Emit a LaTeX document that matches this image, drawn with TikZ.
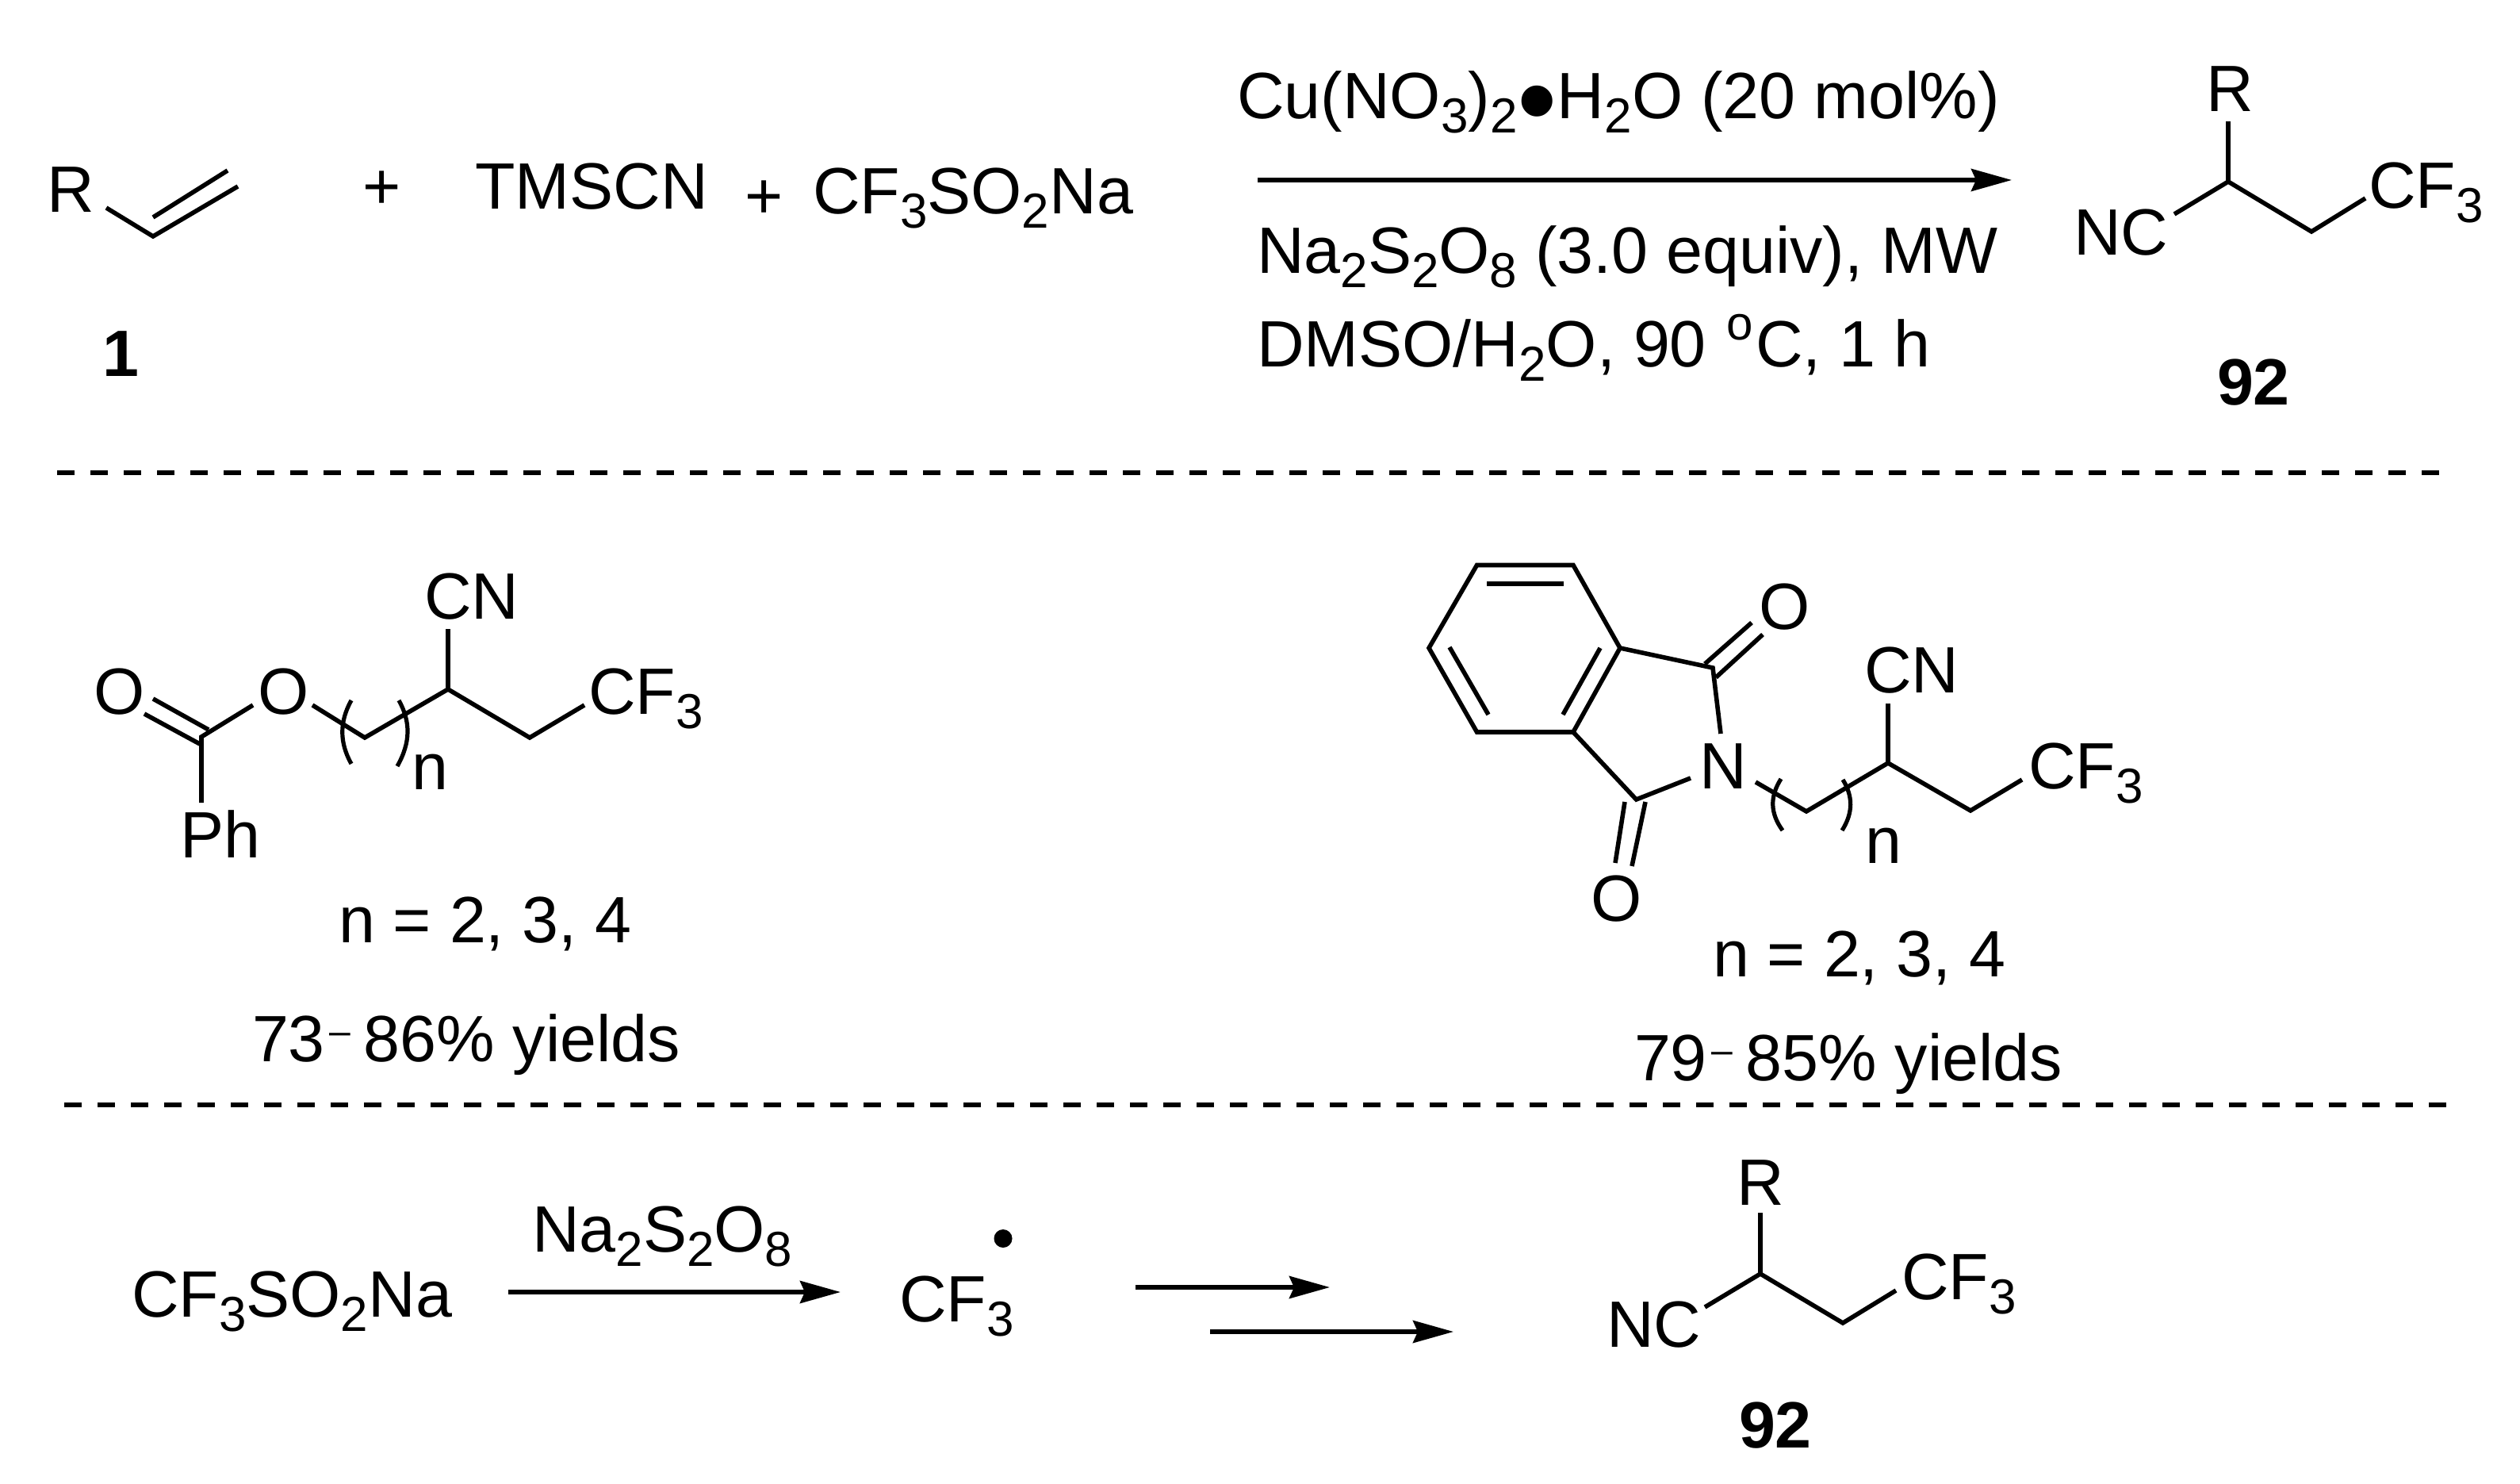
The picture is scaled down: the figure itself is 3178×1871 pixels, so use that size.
\documentclass[tikz,border=0pt]{standalone}
\usepackage{fontspec}
\setmainfont{Liberation Sans}
\usetikzlibrary{arrows.meta}
\newcommand\mainsz{\fontsize{41.3}{48}\selectfont}
\newcommand\subs[1]{\raisebox{-9pt}{\fontsize{31}{36}\selectfont #1}}
\newcommand\rdash{\kern3pt\raisebox{11pt}{\fontsize{24}{28}\selectfont –}\kern8pt}
\newcommand\cfthree{CF\subs{3}}
\tikzset{
  txt/.style={anchor=base west,inner sep=0pt,outer sep=0pt,font=\mainsz},
  bold/.style={txt,font=\mainsz\bfseries},
  bond/.style={line width=2.8pt,line cap=butt,line join=miter},
  paren/.style={line width=2.6pt},
  sep/.style={line width=2.6pt,dash pattern=on 11pt off 10pt},
  rxn/.style={line width=2.8pt,-{Stealth[length=25.5pt,width=14pt,inset=3pt]}},
}
\begin{document}
\begin{tikzpicture}[x=0.5pt,y=-0.5pt]
\useasboundingbox (0,0) rectangle (3178,1871);
% ---------- top equation
\node[txt] (tR) at (59,268) {R};
\coordinate (a1) at (134,262); \coordinate (a2) at (193,298); \coordinate (a3) at (300,235);
\coordinate (a4) at (193,274); \coordinate (a5) at (287,215);
\draw[bond] (a1)--(a2)--(a3);
\draw[bond] (a4)--(a5);
\node[bold] (one) at (129,475) {1};
\node[txt] (p1) at (457,264) {+};
\node[txt] (tms) at (599,264) {TMSCN};
\node[txt] (p2) at (939,276) {+};
\node[txt] (tf1) at (1025,270) {CF\subs{3}SO\subs{2}Na};
\node[txt] (c1) at (1560,150) {Cu(NO\subs{3})\subs{2}\raisebox{-13pt}{\fontsize{72}{80}\selectfont •}H\subs{2}O (20 mol\%)};
\coordinate (ar1s) at (1586,227); \coordinate (ar1e) at (2537,227);
\draw[rxn] (ar1s)--(ar1e);
\node[txt] (c2) at (1585,345) {Na\subs{2}S\subs{2}O\subs{8} (3.0 equiv), MW};
\node[txt] (c3) at (1585,463) {DMSO/H\subs{2}O, 90 \kern1.5pt\raisebox{17pt}{\fontsize{30}{34}\selectfont o}\kern1.5ptC, 1 h};
\node[txt] (pR) at (2782,141) {R};
\node[txt] (pNC) at (2615,322) {NC};
\node[txt] (pCF) at (2987,263) {\cfthree};
\node[bold] (p92) at (2796,511) {92};
\coordinate (b0) at (2810,229); \coordinate (b1) at (2810,153); \coordinate (b2) at (2742,270);
\coordinate (b3) at (2915,292); \coordinate (b4) at (2983,250);
\draw[bond] (b1)--(b0);
\draw[bond] (b2)--(b0)--(b3)--(b4);
% ---------- separators
\coordinate (s1a) at (72,596); \coordinate (s1b) at (3086,596);
\coordinate (s2a) at (81,1393); \coordinate (s2b) at (3096,1393);
\draw[sep] (s1a)--(s1b);
\draw[sep] (s2a)--(s2b);
% ---------- left substrate
\node[txt] (lO1) at (118,900) {O};
\node[txt] (lO2) at (325,900) {O};
\node[txt] (lPh) at (227,1081) {Ph};
\node[txt] (lCN) at (535,780) {CN};
\node[txt] (lCF) at (742,900) {\cfthree};
\node[txt] (ln) at (519,995) {n};
\node[txt] (ln2) at (427,1188) {n = 2, 3, 4};
\node[txt] (ly) at (318,1338) {73\rdash 86\% yields};
\coordinate (l0) at (254,929); \coordinate (l1) at (319,889); \coordinate (l2) at (254,1012);
\coordinate (l3) at (182,900); \coordinate (l4) at (252,938); \coordinate (l5) at (193,881); \coordinate (l6) at (263,920);
\coordinate (l7) at (394,889); \coordinate (l8) at (460,930); \coordinate (l9) at (565,869);
\coordinate (l10) at (565,793); \coordinate (l11) at (668,930); \coordinate (l12) at (737,889);
\draw[bond] (l1)--(l0)--(l2);
\draw[bond] (l3)--(l4);
\draw[bond] (l5)--(l6);
\draw[bond] (l7)--(l8)--(l9)--(l11)--(l12);
\draw[bond] (l9)--(l10);
\coordinate (lpa) at (443,883); \coordinate (lpb) at (443,963);
\coordinate (lqa) at (503,883); \coordinate (lqb) at (501,966);
\draw[paren] (lpa) .. controls (428,910) and (428,936) .. (lpb);
\draw[paren] (lqa) .. controls (518,910) and (518,936) .. (lqb);
% ---------- right substrate
\node[txt] (rO1) at (2218,793) {O};
\node[txt] (rO2) at (2006,1161) {O};
\node[txt] (rN) at (2143,994) {N};
\node[txt] (rCN) at (2351,873) {CN};
\node[txt] (rCF) at (2558,994) {\cfthree};
\node[txt] (rn) at (2352,1088) {n};
\node[txt] (rn2) at (2160,1231) {n = 2, 3, 4};
\node[txt] (ry) at (2061,1362) {79\rdash 85\% yields};
\coordinate (h1) at (1862.5,712.5); \coordinate (h2) at (1984,712.5); \coordinate (h3) at (2043,817);
\coordinate (h4) at (1984,923); \coordinate (h5) at (1862.5,923); \coordinate (h6) at (1802,817);
\draw[bond] (h1)--(h2)--(h3)--(h4)--(h5)--(h6)--cycle;
\coordinate (i1) at (1875,736); \coordinate (i2) at (1972,736);
\coordinate (i3) at (2018,817); \coordinate (i4) at (1971,901);
\coordinate (i5) at (1828,816); \coordinate (i6) at (1877,901);
\draw[bond] (i1)--(i2);
\draw[bond] (i3)--(i4);
\draw[bond] (i5)--(i6);
\coordinate (k1) at (2160,842); \coordinate (k2) at (2170,925);
\coordinate (k3) at (2150,837); \coordinate (k4) at (2209,785);
\coordinate (k5) at (2164,854); \coordinate (k6) at (2223,800);
\draw[bond] (h3)--(k1)--(k2);
\draw[bond] (k3)--(k4);
\draw[bond] (k5)--(k6);
\coordinate (m1) at (2063.5,1008); \coordinate (m2) at (2132,981);
\coordinate (m3) at (2049,1011); \coordinate (m4) at (2037,1088);
\coordinate (m5) at (2075,1011); \coordinate (m6) at (2058,1092);
\draw[bond] (h4)--(m1)--(m2);
\draw[bond] (m3)--(m4);
\draw[bond] (m5)--(m6);
\coordinate (c1) at (2214,986); \coordinate (c2) at (2278,1023); \coordinate (c3) at (2381,962);
\coordinate (c4) at (2381,887); \coordinate (c5) at (2485,1022); \coordinate (c6) at (2550,983);
\draw[bond] (c1)--(c2)--(c3)--(c5)--(c6);
\draw[bond] (c3)--(c4);
\coordinate (rpa) at (2246,982); \coordinate (rpb) at (2248,1047);
\coordinate (rqa) at (2324,983); \coordinate (rqb) at (2323,1047);
\draw[paren] (rpa) .. controls (2232,1004) and (2232,1025) .. (rpb);
\draw[paren] (rqa) .. controls (2337,1004) and (2337,1025) .. (rqb);
% ---------- bottom equation
\node[txt] (bt) at (166,1660) {CF\subs{3}SO\subs{2}Na};
\node[txt] (bn) at (671,1578) {Na\subs{2}S\subs{2}O\subs{8}};
\coordinate (ar2s) at (641,1629); \coordinate (ar2e) at (1060,1629);
\draw[rxn] (ar2s)--(ar2e);
\node[txt] (bc) at (1134,1666) {\cfthree};
\node[circle,fill=black,inner sep=0pt,minimum size=11.5pt] (dot) at (1265,1561.5) {};
\coordinate (ar3s) at (1432,1623); \coordinate (ar3e) at (1677,1623);
\coordinate (ar4s) at (1526,1679); \coordinate (ar4e) at (1833,1679);
\draw[rxn] (ar3s)--(ar3e);
\draw[rxn] (ar4s)--(ar4e);
\node[txt] (qR) at (2190,1519) {R};
\node[txt] (qNC) at (2026,1698) {NC};
\node[txt] (qCF) at (2398,1638) {\cfthree};
\node[bold] (q92) at (2193,1825) {92};
\coordinate (d0) at (2220,1606); \coordinate (d1) at (2220,1529); \coordinate (d2) at (2150,1648);
\coordinate (d3) at (2324,1668); \coordinate (d4) at (2391,1627);
\draw[bond] (d1)--(d0);
\draw[bond] (d2)--(d0)--(d3)--(d4);
\end{tikzpicture}
\end{document}
